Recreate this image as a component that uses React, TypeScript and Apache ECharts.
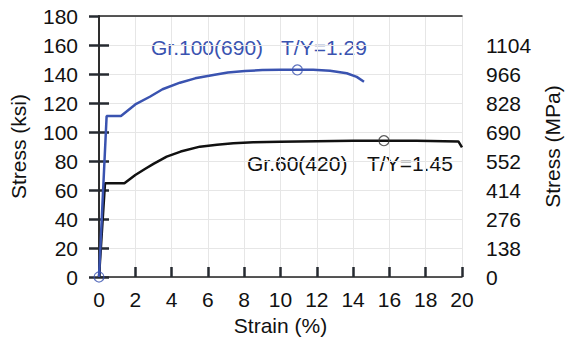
import React, { useEffect, useRef } from "react";
import * as echarts from "echarts";

// Gr.100 (690) stress-strain curve (strain %, stress ksi)
const gr100Strain = [0, 0.42, 1.21, 2.0, 2.8, 3.5, 4.46, 5.3, 6.3, 7.1, 8.04, 9.0, 9.97, 10.93, 11.8, 12.73, 13.65, 14.2, 14.6];
const gr100Stress = [0, 111, 111, 119, 124.3, 129.5, 134, 137, 139.3, 141, 142, 142.7, 143, 143, 143, 142.3, 140.5, 138, 134.7];
// Gr.60 (420) stress-strain curve
const gr60Strain = [0, 0.33, 1.4, 2.0, 2.53, 3.0, 3.73, 4.5, 5.56, 6.5, 7.4, 8.5, 9.97, 12, 14, 15.7, 17.5, 19.0, 19.8, 20.0];
const gr60Stress = [0, 64.6, 64.6, 70.3, 74.5, 78, 83, 86.5, 89.9, 91.2, 92.2, 92.9, 93.3, 93.7, 93.9, 94, 93.9, 93.7, 93.5, 89.4];
// Marked points (hollow circles)
const gr100Marks = [[0, 0], [10.93, 142.8]];
const gr60Marks = [[15.7, 94]];
// Right axis tick labels (MPa)
const mpaTicks = [0, 138, 276, 414, 552, 690, 828, 966, 1104];

const BLUE = "#3a53b0";
const BLACK = "#111111";
const AXIS = "#222222";
const TICK = "#262a30";
const GRIDC = "#e6e6e6";
const FONT = "'Liberation Sans', Arial, sans-serif";

const txt = () => ({ color: "#111", fontSize: 21, fontFamily: FONT });

export default function App() {
  const ref = useRef<HTMLDivElement>(null);
  useEffect(() => {
    const chart = echarts.init(ref.current!, null, { renderer: "svg" });
    const zip = (xs: number[], ys: number[]) => xs.map((x, i) => [x, ys[i]]);
    chart.setOption({
      animation: false,
      backgroundColor: "#fff",
      grid: { left: 99, right: 103, top: 16, bottom: 60, outerBoundsMode: "none" },
      xAxis: [
        {
          type: "value",
          min: 0,
          max: 20,
          interval: 2,
          position: "bottom",
          name: "Strain (%)",
          nameLocation: "middle",
          nameGap: 35,
          nameTextStyle: txt(),
          axisLine: { show: true, lineStyle: { color: AXIS, width: 1.5 } },
          axisTick: { show: true, inside: true, length: 10, lineStyle: { color: TICK, width: 2.5 } },
          axisLabel: { ...txt(), margin: 12 },
          splitLine: { show: true, lineStyle: { color: GRIDC, width: 1 } },
        },
        {
          type: "value",
          min: 0,
          max: 20,
          position: "top",
          axisLine: { show: true, onZero: false, lineStyle: { color: AXIS, width: 1.5 } },
          axisTick: { show: false },
          axisLabel: { show: false },
          splitLine: { show: false },
        },
      ],
      yAxis: [
        {
          type: "value",
          min: 0,
          max: 180,
          interval: 20,
          position: "left",
          name: "Stress (ksi)",
          nameLocation: "middle",
          nameRotate: 90,
          nameGap: 70,
          nameTextStyle: txt(),
          axisLine: { show: true, lineStyle: { color: AXIS, width: 1.5 } },
          axisTick: { show: true, length: 10, lineStyle: { color: TICK, width: 2.5 } },
          axisLabel: { ...txt(), margin: 21 },
          splitLine: { show: true, lineStyle: { color: GRIDC, width: 1 } },
        },
        {
          type: "value",
          min: 0,
          max: 1242,
          position: "right",
          name: "Stress (MPa)",
          nameLocation: "middle",
          nameRotate: 90,
          nameGap: 80,
          nameTextStyle: txt(),
          axisLine: { show: true, lineStyle: { color: AXIS, width: 1.5 } },
          axisTick: { show: true, length: 10, lineStyle: { color: TICK, width: 2.5 }, customValues: mpaTicks },
          axisLabel: { ...txt(), margin: 24, customValues: mpaTicks, formatter: (v: number) => String(v) },
          splitLine: { show: false },
        },
      ],
      series: [
        { type: "line", data: zip(gr60Strain, gr60Stress), showSymbol: false, symbol: "none", lineStyle: { color: BLACK, width: 2.5 }, z: 3 },
        { type: "line", data: zip(gr100Strain, gr100Stress), showSymbol: false, symbol: "none", lineStyle: { color: BLUE, width: 2.5 }, z: 4 },
        { type: "scatter", data: gr60Marks, symbol: "circle", symbolSize: 10, itemStyle: { color: "rgba(0,0,0,0)", borderColor: "#333", borderWidth: 1.2 }, z: 5 },
        { type: "scatter", data: gr100Marks, symbol: "circle", symbolSize: 10, itemStyle: { color: "rgba(0,0,0,0)", borderColor: BLUE, borderWidth: 1.2 }, z: 6 },
      ],
      graphic: [
        { type: "text", x: 151, y: 47.5, style: { text: "Gr.100(690)", fill: BLUE, font: `21px ${FONT}`, verticalAlign: "middle" } },
        { type: "text", x: 281, y: 47.5, style: { text: "T/Y=1.29", fill: BLUE, font: `21px ${FONT}`, verticalAlign: "middle" } },
        { type: "text", x: 247, y: 163, style: { text: "Gr.60(420)", fill: BLACK, font: `21px ${FONT}`, verticalAlign: "middle" } },
        { type: "text", x: 367, y: 163, style: { text: "T/Y=1.45", fill: BLACK, font: `21px ${FONT}`, verticalAlign: "middle" } },
      ],
    });
    return () => chart.dispose();
  }, []);
  return <div ref={ref} style={{ position: "fixed", left: 0, top: 0, width: 565, height: 337 }} />;
}
